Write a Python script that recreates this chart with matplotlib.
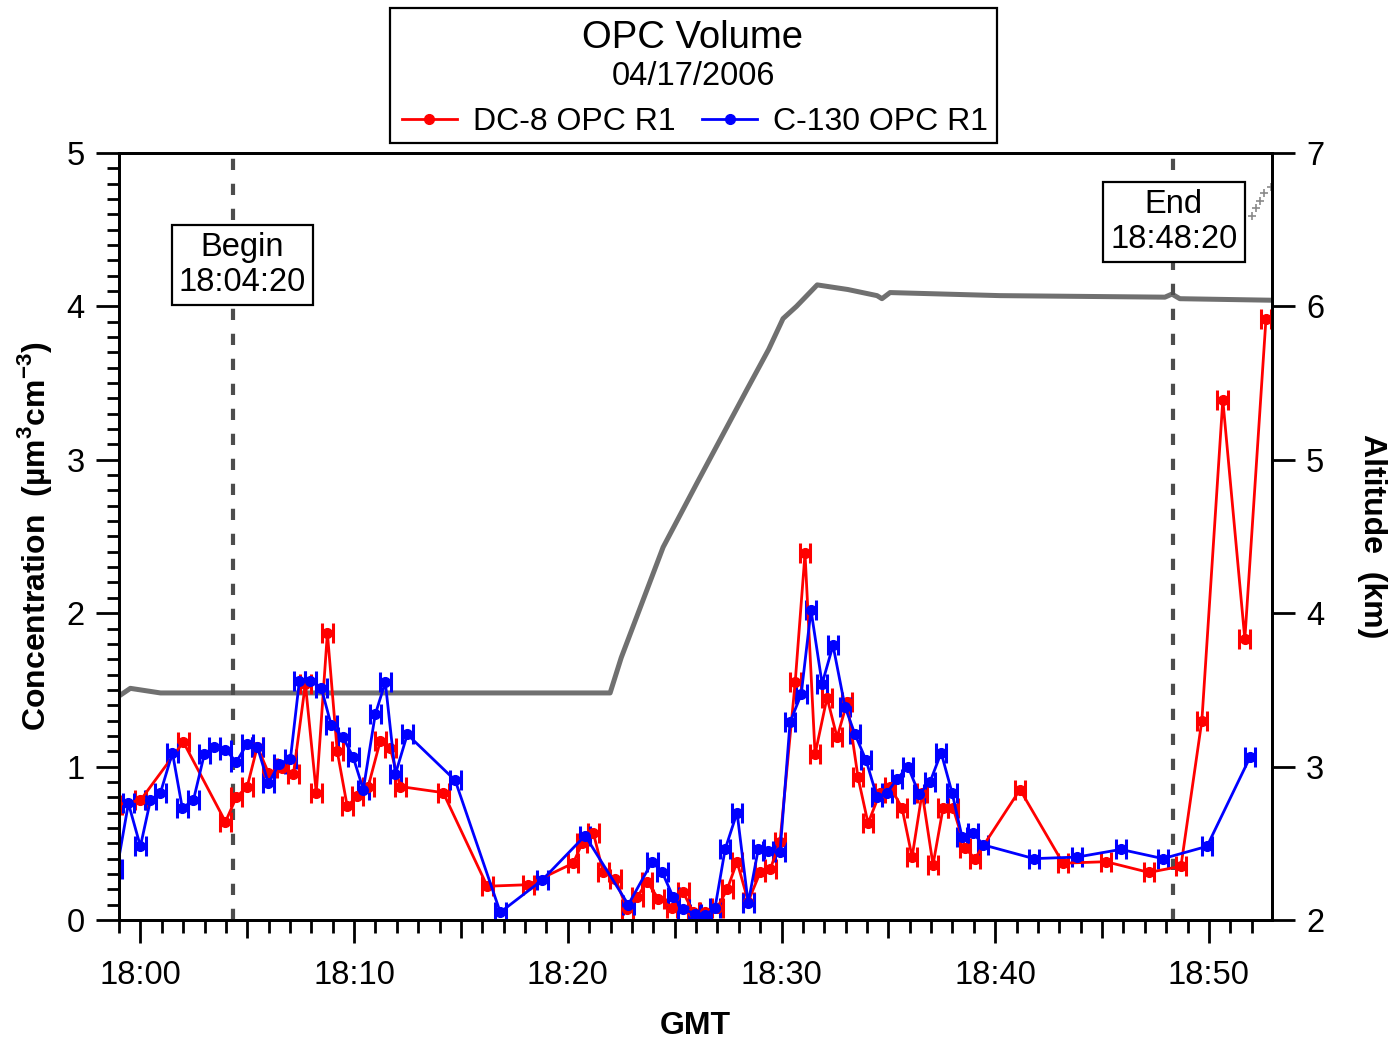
import numpy as np
import matplotlib.pyplot as plt
from matplotlib.patches import Rectangle
from matplotlib.lines import Line2D

plt.rcParams['font.family'] = ['Liberation Sans', 'DejaVu Sans']
plt.rcParams['mathtext.fontset'] = 'custom'
plt.rcParams['mathtext.rm'] = 'Liberation Sans:bold'
plt.rcParams['mathtext.bf'] = 'Liberation Sans:bold'

# time in minutes after 18:00 GMT
dc8_t = [-1.12, 0.00, 2.01, 3.98, 4.49, 5.00, 5.47, 5.99, 6.64, 7.16, 7.72, 8.23,
         8.75, 9.21, 9.68, 10.15, 10.66, 11.23, 11.69, 12.16, 14.17, 16.23, 18.15,
         20.25, 20.67, 21.19, 21.66, 22.22, 22.78, 23.25, 23.71, 24.23, 24.88, 25.40,
         25.87, 26.43, 26.99, 27.46, 27.92, 28.44, 29.00, 29.47, 29.93, 30.64, 31.10,
         31.57, 32.13, 32.60, 33.07, 33.58, 34.05, 34.61, 35.08, 35.64, 36.11, 36.58,
         37.09, 37.56, 38.03, 38.59, 39.05, 41.16, 43.17, 45.18, 47.19, 48.69, 49.67,
         50.65, 51.68, 52.67]
dc8_conc = [0.75, 0.78, 1.16, 0.64, 0.80, 0.87, 1.13, 0.96, 0.99, 0.95, 1.54, 0.83,
            1.87, 1.10, 0.74, 0.81, 0.87, 1.17, 1.12, 0.87, 0.83, 0.22, 0.23,
            0.37, 0.50, 0.57, 0.31, 0.27, 0.07, 0.15, 0.25, 0.14, 0.08, 0.18,
            0.05, 0.05, 0.08, 0.20, 0.38, 0.12, 0.31, 0.33, 0.51, 1.55, 2.39,
            1.08, 1.45, 1.19, 1.42, 0.93, 0.63, 0.83, 0.87, 0.73, 0.41, 0.83,
            0.36, 0.73, 0.73, 0.47, 0.40, 0.85, 0.37, 0.38, 0.31, 0.35, 1.30,
            3.39, 1.83, 3.92]

c130_t = [-1.10, -0.56, 0.00, 0.47, 0.94, 1.50, 1.96, 2.48, 2.99, 3.46, 3.98, 4.49,
          5.00, 5.47, 5.99, 6.50, 7.02, 7.44, 7.95, 8.47, 8.93, 9.49, 9.96, 10.43,
          10.99, 11.46, 11.93, 12.49, 14.73, 16.84, 18.80, 20.81, 22.83, 23.95, 24.42,
          24.93, 25.40, 25.96, 26.43, 26.89, 27.36, 27.92, 28.44, 28.91, 29.37, 29.93,
          30.40, 30.92, 31.38, 31.90, 32.41, 32.97, 33.44, 33.96, 34.47, 34.94, 35.41,
          35.92, 36.44, 36.95, 37.47, 37.98, 38.45, 38.96, 39.43, 41.81, 43.83, 45.88,
          47.85, 49.91, 51.92]
c130_conc = [0.33, 0.76, 0.48, 0.78, 0.83, 1.09, 0.73, 0.78, 1.08, 1.13, 1.11, 1.03,
             1.15, 1.13, 0.89, 1.02, 1.05, 1.56, 1.56, 1.51, 1.27, 1.19, 1.06, 0.85,
             1.34, 1.55, 0.95, 1.21, 0.91, 0.05, 0.26, 0.55, 0.10, 0.38, 0.31,
             0.15, 0.07, 0.04, 0.03, 0.08, 0.46, 0.70, 0.11, 0.46, 0.45, 0.44,
             1.29, 1.47, 2.02, 1.54, 1.79, 1.39, 1.21, 1.04, 0.80, 0.83, 0.92,
             1.00, 0.82, 0.90, 1.09, 0.83, 0.54, 0.57, 0.49, 0.40, 0.41, 0.46,
             0.40, 0.48, 1.06]

alt_t = [-1.0, -0.47, 0.0, 0.94, 21.98, 22.5, 24.46, 26.05, 28.39, 29.4, 30.07,
         30.7, 31.67, 33.1, 34.47, 34.7, 35.08, 40.22, 47.94, 48.27, 48.64, 52.95]
alt_km = [3.46, 3.51, 3.50, 3.48, 3.48, 3.71, 4.43, 4.85, 5.46, 5.72, 5.92,
          6.00, 6.14, 6.11, 6.07, 6.05, 6.09, 6.07, 6.06, 6.08, 6.05, 6.04]
stray_t = [52.0, 52.2, 52.4, 52.6, 52.9]
stray_km = [6.59, 6.64, 6.69, 6.74, 6.78]

t_err = 0.25
begin_t = 4 + 20 / 60
end_t = 48 + 20 / 60

xtick_pos = [0, 5, 10, 15, 20, 25, 30, 35, 40, 45, 50]
xtick_labels = ['18:00', '', '18:10', '', '18:20', '', '18:30', '', '18:40', '', '18:50']

fs = 23.5

fig = plt.figure(figsize=(13.97, 10.42), dpi=100)
ax = fig.add_axes([0.0852, 0.1171, 0.8253, 0.7361])
ax2 = ax.twinx()
ax.set_zorder(ax2.get_zorder() + 1)
ax.patch.set_visible(False)

# altitude
ax2.plot(alt_t, alt_km, color='#707070', lw=3.6, solid_joinstyle='round')
ax2.plot(stray_t, stray_km, '+', color='#8a8a8a', ms=6, mew=1.2)
ax2.set_ylim(2, 7)
ax2.set_yticks([2, 3, 4, 5, 6, 7])
ax2.set_ylabel('Altitude  (km)', fontsize=23, fontweight='bold', rotation=270, labelpad=45)

# concentrations
ax.errorbar(dc8_t, dc8_conc, xerr=t_err, fmt='-o', color='#ff0000', ms=7, lw=2,
            elinewidth=2, capsize=7, capthick=2.2)
ax.errorbar(c130_t, c130_conc, xerr=t_err, fmt='-o', color='#0000ff', ms=7, lw=2,
            elinewidth=2, capsize=7, capthick=2.2)

for xv in [begin_t, end_t]:
    ax.axvline(xv, color='#4d4d4d', lw=3, linestyle=(0, (2.7, 3.3)), zorder=1)

ax.text(4.77, 4.27, 'Begin\n18:04:20', fontsize=fs, ha='center', va='center',
        linespacing=1.15, bbox=dict(boxstyle='square,pad=0.22', fc='white', ec='black', lw=1.6))
ax.text(48.36, 4.55, 'End\n18:48:20', fontsize=fs, ha='center', va='center',
        linespacing=1.15, bbox=dict(boxstyle='square,pad=0.22', fc='white', ec='black', lw=1.6))

ax.set_xlim(-1.0, 52.95)
ax.set_ylim(0, 5)
ax.set_xticks(xtick_pos)
ax.set_xticklabels(xtick_labels)
ax.set_xticks(np.arange(-1, 53), minor=True)
ax.set_yticks([0, 1, 2, 3, 4, 5])
ax.set_yticks(np.arange(0, 5.01, 0.1), minor=True)

ax.set_xlabel('GMT', fontsize=23, fontweight='bold', labelpad=15)
ax.set_ylabel(r'Concentration  (µm$^{3}$cm$^{-3}$)', fontsize=23, fontweight='bold', labelpad=9)

for a in (ax, ax2):
    for s in a.spines.values():
        s.set_linewidth(2)
ax.tick_params(axis='both', which='major', direction='out', length=16.5, width=2,
               labelsize=fs, pad=8)
ax.tick_params(axis='x', which='major', pad=12)
ax.tick_params(axis='both', which='minor', direction='out', length=9, width=2)
ax.tick_params(axis='x', which='both', top=False)
ax2.tick_params(axis='y', which='major', direction='out', length=16.5, width=2,
                labelsize=fs, pad=8)
for i, tk in enumerate(ax.xaxis.get_major_ticks()):
    if xtick_labels[i] == '':
        tk.tick1line.set_markersize(13)

# title / legend box
fig.add_artist(Rectangle((390 / 1397, 1 - 143 / 1042), 607 / 1397, 135 / 1042,
                         transform=fig.transFigure, fc='white', ec='black', lw=1.6))
fig.text(693 / 1397, 1 - 38 / 1042, 'OPC Volume', fontsize=27.5, ha='center', va='center')
fig.text(693 / 1397, 1 - 77 / 1042, '04/17/2006', fontsize=fs, ha='center', va='center')
handles = [Line2D([], [], color='#ff0000', marker='o', ms=7, lw=2),
           Line2D([], [], color='#0000ff', marker='o', ms=7, lw=2)]
fig.legend(handles, ['DC-8 OPC R1', 'C-130 OPC R1'], loc='center', ncol=2,
           bbox_to_anchor=(695 / 1397, 1 - 122 / 1042), fontsize=23, frameon=False,
           handlelength=1.75, handletextpad=0.5, columnspacing=0.8, numpoints=1,
           borderpad=0, borderaxespad=0)

fig.savefig('out.png', dpi=100)
